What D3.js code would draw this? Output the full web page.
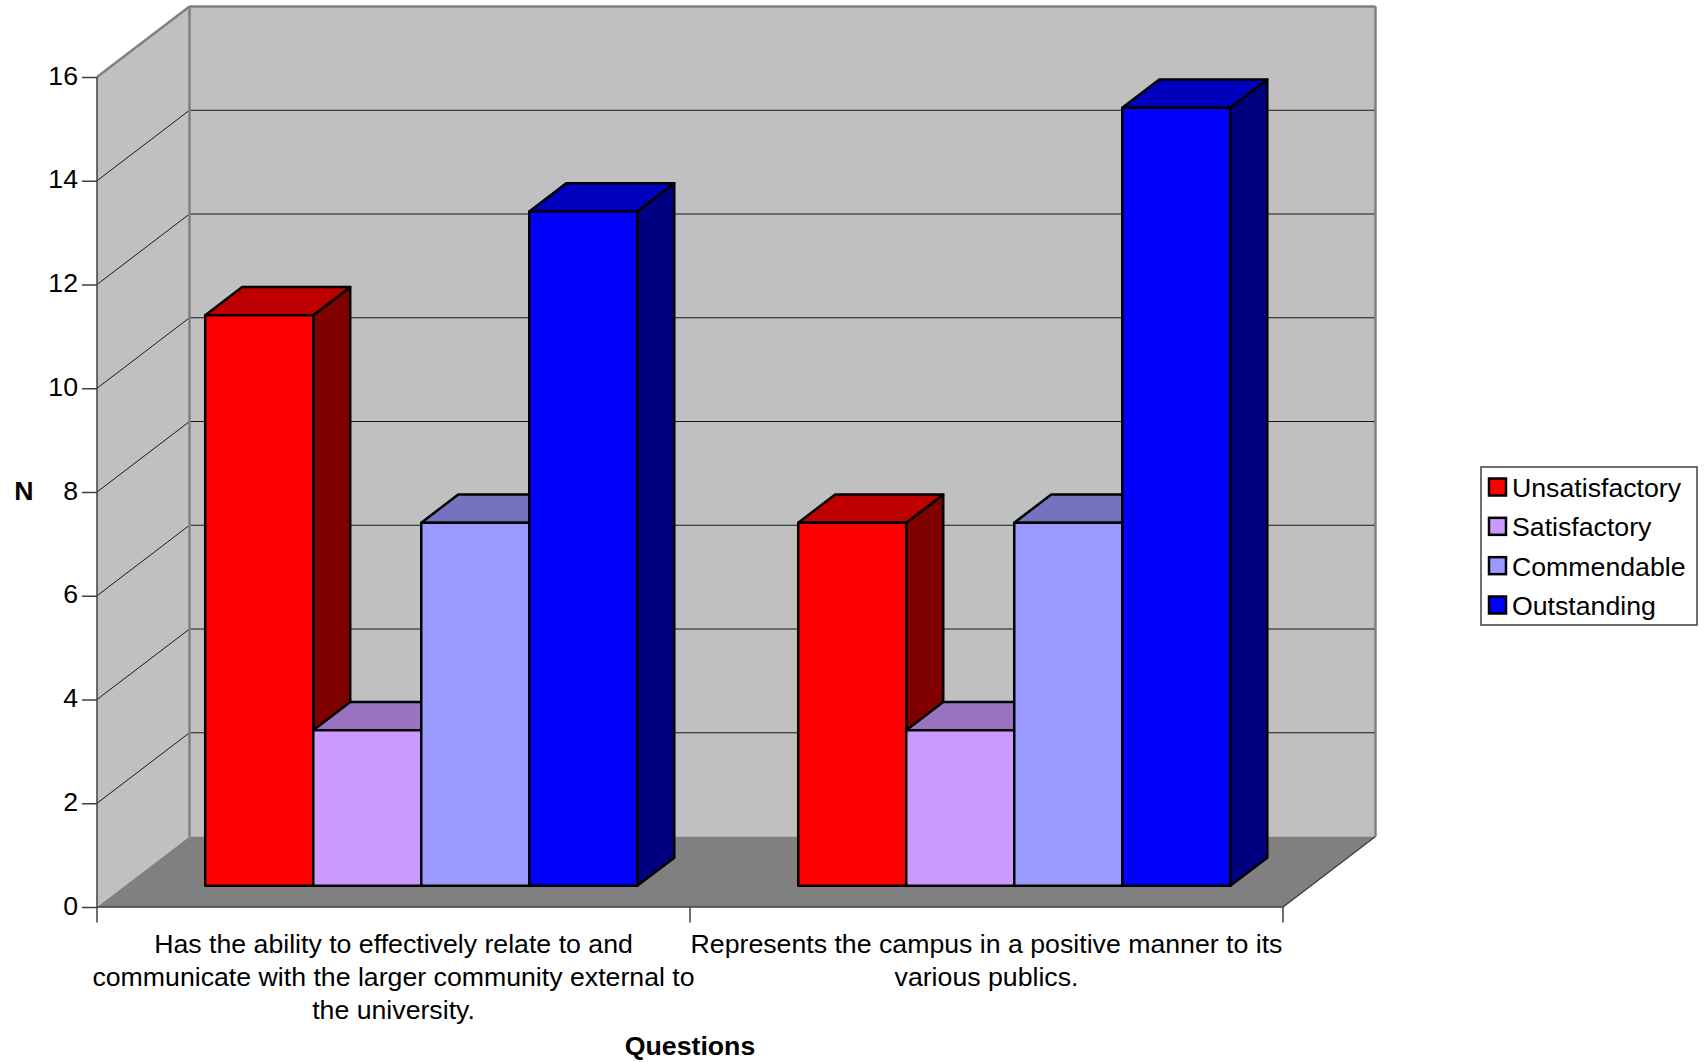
<!DOCTYPE html>
<html>
<head>
<meta charset="utf-8">
<title>Ratings by question</title>
<script src="https://d3js.org/d3.v7.min.js"></script>
<style>
  body { margin: 0; background: #fff; }
  svg { display: block; font-family: "Liberation Sans", Arial, sans-serif; }
</style>
</head>
<body>
<div id="chart"></div>
<script>
'use strict';

var questions = ['q1', 'q2'];
var questionLabels = [
  ['Has the ability to effectively relate to and',
   'communicate with the larger community external to',
   'the university.'],
  ['Represents the campus in a positive manner to its',
   'various publics.']
];
var seriesNames = ['Unsatisfactory', 'Satisfactory', 'Commendable', 'Outstanding'];
var unsatisfactory = [11, 7];
var satisfactory = [3, 3];
var commendable = [7, 7];
var outstanding = [13, 15];
var seriesValues = [unsatisfactory, satisfactory, commendable, outstanding];
var seriesColors = ['#ff0000', '#cc99ff', '#9999ff', '#0000ff'];
var yTicks = [0, 2, 4, 6, 8, 10, 12, 14, 16];

var width = 1704, height = 1062;
var fontSize = 26.7;

var svg = d3.select('#chart').append('svg')
  .attr('width', width)
  .attr('height', height);

var x0 = d3.scaleBand().domain(questions).range([97, 1283]);
var x1 = d3.scaleBand().domain(seriesNames).range([0, x0.bandwidth()]).paddingOuter(0.745).paddingInner(0);
var y = d3.scaleLinear().domain([0, 16]).range([907, 77]);
// depth of the box: 0 is the front plane, 1 the back wall
var depthX = d3.scaleLinear().domain([0, 1]).range([0, 92.5]);
var depthY = d3.scaleLinear().domain([0, 1]).range([0, -70.5]);
var BAR_FRONT = 0.3, BAR_BACK = 0.7;

function project(px, value, z) {
  return [px + depthX(z), y(value) + depthY(z)];
}

var line = d3.line();
function poly(g, pts, fill, stroke, strokeWidth) {
  return g.append('path')
    .attr('d', line(pts) + 'Z')
    .attr('fill', fill)
    .attr('stroke', stroke || 'none')
    .attr('stroke-width', strokeWidth || 0)
    .attr('stroke-linejoin', 'round');
}
function seg(g, a, b, stroke, strokeWidth) {
  return g.append('line')
    .attr('x1', a[0]).attr('y1', a[1])
    .attr('x2', b[0]).attr('y2', b[1])
    .attr('stroke', stroke)
    .attr('stroke-width', strokeWidth);
}
function shade(color, k) {
  var c = d3.rgb(color);
  return d3.rgb(c.r * k, c.g * k, c.b * k).formatHex();
}

var xLeft = x0.range()[0], xRight = x0.range()[1];
var box = svg.append('g');

// walls and floor
poly(box, [project(xLeft, 0, 0), project(xLeft, 16, 0), project(xLeft, 16, 1), project(xLeft, 0, 1)], '#c0c0c0');
poly(box, [project(xLeft, 0, 1), project(xLeft, 16, 1), project(xRight, 16, 1), project(xRight, 0, 1)], '#c0c0c0');
poly(box, [project(xLeft, 0, 0), project(xLeft, 0, 1), project(xRight, 0, 1), project(xRight, 0, 0)], '#808080');

// gridlines
yTicks.filter(function(t) { return t > 0 && t < 16; }).forEach(function(t) {
  seg(box, project(xLeft, t, 0), project(xLeft, t, 1), '#1a1a1a', 1);
  seg(box, project(xLeft, t, 1), project(xRight, t, 1), '#1a1a1a', 1);
});

// box edges
seg(box, project(xLeft, 0, 1), project(xLeft, 16, 1), '#808080', 2.5);
seg(box, project(xLeft, 16, 0), project(xLeft, 16, 1), '#808080', 2.5);
seg(box, project(xLeft, 16, 1), project(xRight, 16, 1), '#808080', 2.5);
seg(box, project(xRight, 16, 1), project(xRight, 0, 1), '#808080', 2.5);
seg(box, project(xRight, 0, 0), project(xRight, 0, 1), '#404040', 1.5);
seg(box, project(xLeft, 0, 0), project(xRight, 0, 0), '#404040', 1.5);
seg(box, project(xLeft, 16, 0), [xLeft, y(0) + 15.5], '#404040', 1.5);

// category ticks
x0.domain().slice(1).concat(['end']).forEach(function(q) {
  var px = q === 'end' ? xRight : x0(q);
  seg(box, [px, y(0)], [px, y(0) + 15.5], '#404040', 1.5);
});

// bars, left to right so later ones cover earlier side faces
var bars = svg.append('g');
questions.forEach(function(q, qi) {
  seriesNames.forEach(function(name, si) {
    var v = seriesValues[si][qi];
    var l = x0(q) + x1(name), r = l + x1.bandwidth();
    var g = bars.append('g');
    poly(g, [project(r, 0, BAR_FRONT), project(r, v, BAR_FRONT), project(r, v, BAR_BACK), project(r, 0, BAR_BACK)],
      shade(seriesColors[si], 0.5), '#000', 2.5);
    poly(g, [project(l, v, BAR_FRONT), project(l, v, BAR_BACK), project(r, v, BAR_BACK), project(r, v, BAR_FRONT)],
      shade(seriesColors[si], 0.75), '#000', 2.5);
    poly(g, [project(l, 0, BAR_FRONT), project(l, v, BAR_FRONT), project(r, v, BAR_FRONT), project(r, 0, BAR_FRONT)],
      seriesColors[si], '#000', 2.5);
  });
});

// y axis
var yAxis = d3.axisLeft(y).tickValues(yTicks).tickSize(15).tickPadding(4);
var yG = svg.append('g')
  .attr('transform', 'translate(' + xLeft + ',0)')
  .call(yAxis);
yG.select('.domain').remove();
yG.selectAll('.tick line').attr('stroke', '#404040').attr('stroke-width', 1.5);
yG.selectAll('.tick text')
  .attr('fill', '#000')
  .attr('dy', '0.27em')
  .style('font-family', 'inherit')
  .style('font-size', fontSize + 'px');

// category labels
questions.forEach(function(q, qi) {
  var text = svg.append('text')
    .attr('text-anchor', 'middle')
    .attr('font-size', fontSize);
  questionLabels[qi].forEach(function(str, i) {
    text.append('tspan')
      .attr('x', x0(q) + x0.bandwidth() / 2)
      .attr('y', 953 + i * 33)
      .text(str);
  });
});

// axis titles
svg.append('text').attr('x', 24).attr('y', 500)
  .attr('text-anchor', 'middle').attr('font-size', fontSize).attr('font-weight', 'bold').text('N');
svg.append('text').attr('x', (xLeft + xRight) / 2).attr('y', 1055)
  .attr('text-anchor', 'middle').attr('font-size', fontSize).attr('font-weight', 'bold').text('Questions');

// legend
var legend = svg.append('g');
legend.append('rect')
  .attr('x', 1481).attr('y', 467).attr('width', 216).attr('height', 158)
  .attr('fill', '#fff').attr('stroke', '#404040').attr('stroke-width', 1.5);
var legendY = d3.scalePoint().domain(seriesNames).range([487, 605]);
seriesNames.forEach(function(name, i) {
  legend.append('rect')
    .attr('x', 1489).attr('y', legendY(name) - 8.5)
    .attr('width', 17).attr('height', 17)
    .attr('fill', seriesColors[i]).attr('stroke', '#000').attr('stroke-width', 2.5);
  legend.append('text')
    .attr('x', 1512).attr('y', legendY(name) + 10)
    .attr('font-size', fontSize)
    .text(name);
});
</script>
</body>
</html>
